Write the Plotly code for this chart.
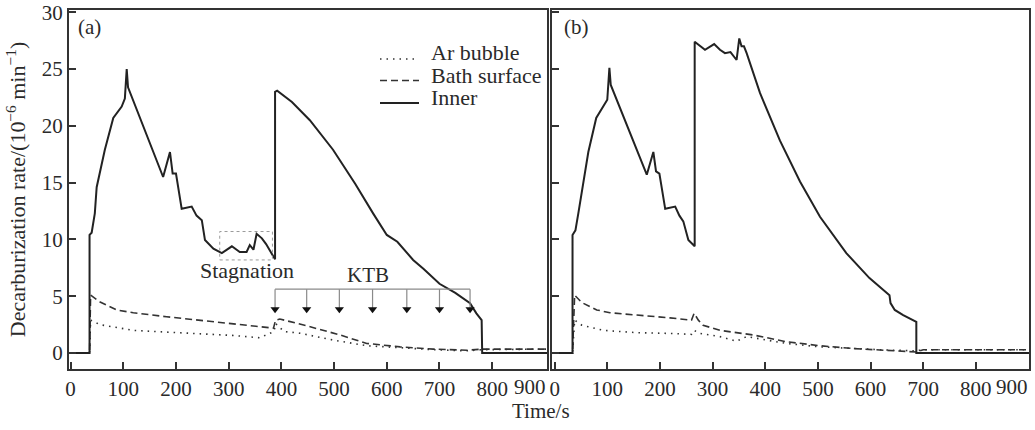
import plotly.graph_objects as go

# ---------------- data ----------------
# Panel (a)
inner_a_t = [0, 36, 36, 40, 46, 49.5, 65, 81, 97, 103, 106.5, 109, 175.6, 188.6, 193.7, 200,
             210.8, 229.8, 239, 249, 255, 271, 287, 306, 321, 334, 340, 347, 353, 363, 371,
             388, 388, 392, 420, 454, 498, 540, 574, 600, 620, 650, 670, 700, 730, 758, 770,
             780, 781, 905]
inner_a_v = [0, 0, 10.4, 10.6, 12.3, 14.6, 17.9, 20.7, 21.7, 22.4, 25.0, 23.4, 15.5, 17.7, 15.8,
             15.8, 12.7, 12.9, 12.1, 11.7, 9.95, 9.2, 8.8, 9.4, 8.9, 8.9, 9.5, 9.1, 10.5, 10.1,
             9.6, 8.25, 23.0, 23.1, 22.1, 20.5, 17.9, 14.9, 12.3, 10.4, 9.8, 8.2, 7.4, 6.1,
             5.3, 4.4, 3.5, 2.9, 0, 0]

bath_a_t = [0, 36, 38, 56, 87.5, 119, 182, 245, 309, 359, 385, 389, 397, 448, 511, 562, 625,
            688, 752, 780, 905]
bath_a_v = [0, 0, 5.1, 4.5, 3.8, 3.55, 3.2, 2.9, 2.6, 2.3, 2.2, 2.9, 3.0, 2.4, 1.6, 0.85, 0.55,
            0.35, 0.25, 0.35, 0.35]

ar_a_t = [0, 36, 38, 56, 119, 182, 245, 309, 359, 378, 386, 389, 405, 435, 498, 562, 625, 688,
          752, 780, 905]
ar_a_v = [0, 0, 2.9, 2.5, 2.0, 1.85, 1.7, 1.55, 1.35, 1.7, 1.9, 2.6, 1.9, 1.75, 1.15, 0.65, 0.45,
          0.3, 0.2, 0.3, 0.35]

# Panel (b)
inner_b_t = [0, 34, 34, 39.5, 45, 64, 79, 92.6, 100, 104, 106.6, 175, 187.5, 192.6, 199, 210,
             229, 237, 244.4, 254, 263, 266, 266, 276, 285.6, 303, 314, 323.5, 334, 345.6,
             350.7, 355, 359.6, 364.7, 390, 428, 466, 504, 554, 598, 636, 638, 646, 662, 687,
             687, 905]
inner_b_v = [0, 0, 10.4, 10.8, 12.3, 17.7, 20.7, 21.8, 22.3, 25.1, 23.6, 15.7, 17.7, 16.0, 15.8,
             12.7, 12.9, 12.1, 11.6, 9.95, 9.5, 9.4, 27.4, 27.0, 26.7, 27.2, 26.7, 26.4, 26.5,
             25.8, 27.7, 27.0, 27.0, 26.4, 22.9, 18.7, 15.1, 12.0, 8.8, 6.6, 5.1, 4.4, 3.8,
             3.35, 2.75, 0, 0]

bath_b_t = [0, 34, 38, 51.6, 80, 105, 156, 187.5, 219, 260, 265, 273, 282, 314, 377, 440, 503.6,
            567, 630, 687, 700, 905]
bath_b_v = [0, 0, 5.1, 4.45, 3.8, 3.55, 3.35, 3.25, 3.1, 2.9, 3.5, 2.9, 2.45, 2.0, 1.6, 1.0, 0.65,
            0.4, 0.27, 0.1, 0.3, 0.3]

ar_b_t = [0, 34, 38, 51.6, 92.6, 156, 219, 260, 265, 276, 314, 345.6, 364.7, 440, 503.6, 567,
          630, 687, 700, 905]
ar_b_v = [0, 0, 2.9, 2.46, 2.0, 1.8, 1.73, 1.65, 2.0, 1.73, 1.45, 1.05, 1.45, 0.85, 0.55, 0.4,
          0.27, 0.2, 0.3, 0.3]

series_names = ["Ar bubble", "Bath surface", "Inner"]

# annotations
ktb_times = [388, 448, 510, 573, 638, 700, 758]
ktb_top = 5.63
ktb_tip = 3.85
stag_box_t = [283, 383]
stag_box_v = [8.2, 10.7]

x_ticks = [0, 100, 200, 300, 400, 500, 600, 700, 800]
y_ticks = [0, 5, 10, 15, 20, 25, 30]

FONT = "Liberation Serif"
DARK = "#222222"
TXT = "#2a2a2a"
styles = [dict(color="#333333", width=1.6, dash="1.5px,5px"),
          dict(color="#333333", width=1.6, dash="7px,4px"),
          dict(color=DARK, width=2)]

fig = go.Figure()

for (t, v), name, st in zip([(ar_a_t, ar_a_v), (bath_a_t, bath_a_v), (inner_a_t, inner_a_v)],
                            series_names, styles):
    fig.add_trace(go.Scatter(x=t, y=v, mode="lines", name=name, line=st,
                             showlegend=False, xaxis="x", yaxis="y"))
for (t, v), name, st in zip([(ar_b_t, ar_b_v), (bath_b_t, bath_b_v), (inner_b_t, inner_b_v)],
                            series_names, styles):
    fig.add_trace(go.Scatter(x=t, y=v, mode="lines", name=name, line=st,
                             showlegend=False, xaxis="x2", yaxis="y2"))

# KTB bracket
bx, by = [], []
bx += [ktb_times[0], ktb_times[-1], None]
by += [ktb_top, ktb_top, None]
for t in ktb_times:
    bx += [t, t, None]
    by += [ktb_top, ktb_tip, None]
fig.add_trace(go.Scatter(x=bx, y=by, mode="lines", showlegend=False, hoverinfo="skip",
                         line=dict(color="#8a8a8a", width=1.2), xaxis="x", yaxis="y"))
fig.add_trace(go.Scatter(x=ktb_times, y=[ktb_tip] * len(ktb_times), mode="markers",
                         showlegend=False, hoverinfo="skip",
                         marker=dict(symbol="triangle-down", size=8, color="#111111"),
                         xaxis="x", yaxis="y"))

fig.add_shape(type="rect", xref="x", yref="y", x0=stag_box_t[0], x1=stag_box_t[1],
              y0=stag_box_v[0], y1=stag_box_v[1],
              line=dict(color="#9a9a9a", width=1, dash="dot"))

L, R, T, B = 69, 6, 10, 61
W, H = 1035, 430
pw, ph = W - L - R, H - T - B


def px_x(p):
    return (p - L) / pw


def px_y(p):
    return (H - B - p) / ph


tick_font = dict(family=FONT, size=21, color=TXT)
axis_common = dict(showline=True, linecolor="#333333", linewidth=2, mirror=True,
                   ticks="inside", ticklen=7, tickwidth=1.5, tickcolor="#333333",
                   showgrid=False, zeroline=False, automargin=False, tickfont=tick_font)

fig.update_layout(
    width=W, height=H,
    margin=dict(l=L, r=R, t=T, b=B),
    paper_bgcolor="white", plot_bgcolor="white",
    font=dict(family=FONT, color=TXT),
    xaxis=dict(domain=[0, px_x(547)], range=[-3, 904], tickvals=x_ticks,
               ticklabelstandoff=0, **axis_common),
    yaxis=dict(domain=[0, 1], range=[-1.4, 30.2], tickvals=y_ticks, anchor="x",
               ticklabelstandoff=0,
               title=dict(text="Decarburization rate/(10<sup>−6</sup> min<sup>−1</sup>)",
                          font=dict(family=FONT, size=22, color=TXT), standoff=10),
               **axis_common),
    xaxis2=dict(domain=[px_x(552), 1], range=[-5, 901], tickvals=x_ticks, anchor="y2",
                ticklabelstandoff=0, **axis_common),
    yaxis2=dict(domain=[0, 1], range=[-1.4, 30.2], tickvals=y_ticks, anchor="x2",
                showticklabels=False, **axis_common),
    showlegend=False,
)

# hand-drawn legend (compact rows like the reference)
leg_text_px = [53, 75.5, 98]
leg_line_px = [59, 80.5, 103]
for name, st, ty, ly in zip(series_names, styles, leg_text_px, leg_line_px):
    fig.add_shape(type="line", xref="paper", yref="paper", x0=px_x(380), x1=px_x(419),
                  y0=px_y(ly), y1=px_y(ly), line=st)
    fig.add_annotation(text=name, xref="paper", yref="paper", x=px_x(429), y=px_y(ty),
                       xanchor="left", yanchor="middle", showarrow=False,
                       font=dict(family=FONT, size=22, color=TXT))


def note(text, x, y, font, xref="paper", yref="paper"):
    fig.add_annotation(text=text, xref=xref, yref=yref, x=x, y=y, xanchor="center",
                       yanchor="middle", showarrow=False, font=font)


ann_font = dict(family=FONT, size=21, color=TXT)
note("Time/s", px_x(541), px_y(411), ann_font)
note("900", px_x(530), px_y(387), tick_font)
note("900", px_x(1012), px_y(387), tick_font)
note("(a)", px_x(89), px_y(27), ann_font)
note("(b)", px_x(576), px_y(27), ann_font)
note("Stagnation", 335, 7.3, dict(family=FONT, size=22, color=TXT), "x", "y")
note("KTB", 565, 6.85, ann_font, "x", "y")

fig.write_html("out.html", config={"displayModeBar": False},
               post_script="document.body.style.margin='0';")
